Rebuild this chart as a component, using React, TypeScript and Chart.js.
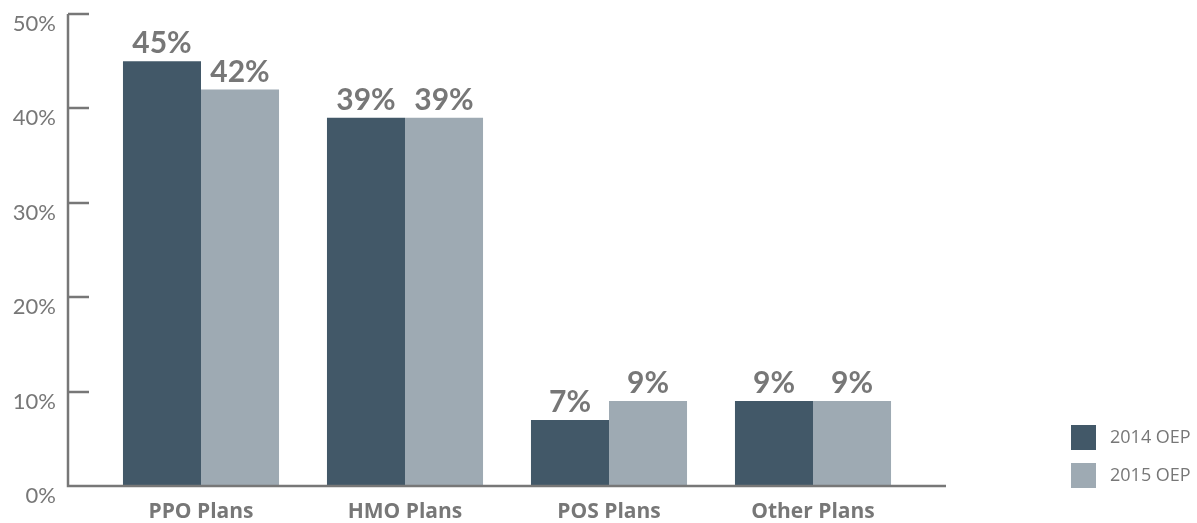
import React, { useEffect, useRef } from "react";
import { Chart, registerables } from "chart.js";
Chart.register(...registerables);

const categories = ["PPO Plans", "HMO Plans", "POS Plans", "Other Plans"];
const seriesNames = ["2014 OEP", "2015 OEP"];
const values2014 = [45, 39, 7, 9];
const values2015 = [42, 39, 9, 9];
const seriesColors = ["#425868", "#9eaab3"];
const yMin = 0;
const yMax = 50;
const yStep = 10;

const GREY = "#777777";

export default function App() {
  const ref = useRef<HTMLCanvasElement>(null);
  useEffect(() => {
    document.body.style.margin = "0";
    const customPlugin = {
      id: "customDecor",
      afterDatasetsDraw(chart: any) {
        const { ctx, chartArea, scales } = chart;
        const y = scales.y;
        const ax = chartArea.left - 31;
        const axRight = chartArea.right + 31;
        const y0 = y.getPixelForValue(yMin);
        const yTop = y.getPixelForValue(yMax);
        ctx.save();
        ctx.strokeStyle = GREY;
        ctx.lineWidth = 2.5;
        ctx.beginPath();
        ctx.moveTo(ax, yTop);
        ctx.lineTo(ax, y0 + 1.25);
        y.ticks.forEach((t: any) => {
          const py = Math.round(y.getPixelForValue(t.value));
          ctx.moveTo(ax, py);
          ctx.lineTo(ax + 21, py);
        });
        ctx.moveTo(ax - 1.25, y0);
        ctx.lineTo(axRight, y0);
        ctx.stroke();

        // value labels
        ctx.fillStyle = GREY;
        ctx.font = "bold 30px Lato";
        ctx.textAlign = "center";
        ctx.textBaseline = "alphabetic";
        chart.data.datasets.forEach((ds: any, di: number) => {
          const meta = chart.getDatasetMeta(di);
          meta.data.forEach((bar: any, i: number) => {
            ctx.fillText(ds.data[i] + "%", bar.x, bar.y - 8);
          });
        });

        // legend
        const lx = chartArea.right + 156;
        const lyStart = chartArea.bottom - 61;
        ctx.font = "18px 'Open Sans'";
        ctx.textAlign = "left";
        ctx.textBaseline = "middle";
        chart.data.datasets.forEach((ds: any, di: number) => {
          const ly = lyStart + di * 38;
          ctx.fillStyle = ds.backgroundColor;
          ctx.fillRect(lx, ly, 25, 25);
          ctx.fillStyle = GREY;
          ctx.fillText(ds.label, lx + 39, ly + 13);
        });
        ctx.restore();
      },
    };

    const chart = new Chart(ref.current as HTMLCanvasElement, {
      type: "bar",
      data: {
        labels: categories,
        datasets: [
          { label: seriesNames[0], data: values2014, backgroundColor: seriesColors[0] },
          { label: seriesNames[1], data: values2015, backgroundColor: seriesColors[1] },
        ],
      },
      options: {
        animation: false,
        responsive: true,
        maintainAspectRatio: false,
        layout: { padding: { top: 14, right: 282, left: 0, bottom: 0 } },
        datasets: {
          bar: { categoryPercentage: 0.765, barPercentage: 1 },
        },
        plugins: {
          legend: { display: false },
          tooltip: { enabled: false },
        },
        scales: {
          x: {
            grid: { display: false, drawTicks: false },
            border: { display: false },
            ticks: {
              color: GREY,
              font: { family: "'Open Sans'", size: 21, weight: "bold" },
              padding: 13,
            },
            afterFit: (scale: any) => {
              scale.height = 37;
              scale.paddingLeft = 0;
              scale.paddingRight = 0;
            },
          },
          y: {
            min: yMin,
            max: yMax,
            grid: { display: false, drawTicks: false },
            border: { display: false },
            ticks: {
              stepSize: yStep,
              color: GREY,
              font: { family: "Lato", size: 22, weight: "normal" },
              padding: 43,
              labelOffset: 10,
              callback: (v: any) => v + "%",
            },
            afterFit: (scale: any) => {
              scale.width = 99;
              scale.paddingTop = 0;
              scale.paddingBottom = 0;
            },
          },
        },
      },
      plugins: [customPlugin],
    });
    return () => chart.destroy();
  }, []);

  return (
    <div style={{ position: "fixed", left: 0, top: 0, width: 1197, height: 523 }}>
      <canvas ref={ref} />
    </div>
  );
}
